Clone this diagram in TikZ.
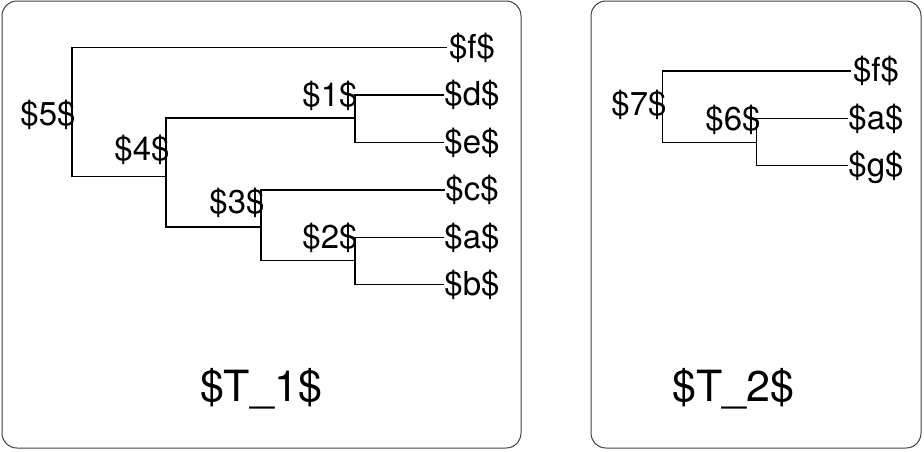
\documentclass[tikz,border=0pt]{standalone}
\usepackage{fontspec}
\setmainfont{TeX Gyre Heros}
\tikzset{
  lbl/.style={inner sep=0pt, font=\fontsize{33}{36}\selectfont, text height=25.4pt, text depth=3.6pt},
  leaf/.style={lbl, minimum width=50pt},
  ttl/.style={inner sep=0pt, font=\fontsize{43}{46}\selectfont, text height=33.1pt, text depth=4.7pt},
  frame/.style={draw=black!75, line width=1pt, rounded corners=15pt},
  edge/.style={line width=1.3pt}
}
\begin{document}
\begin{tikzpicture}[x=1pt,y=-1pt]
		\useasboundingbox (0,0) rectangle (924,451);
		\draw [frame] (2,1) rectangle (521,448);
		\draw [frame] (591,1) rectangle (921,448);
		
		% left tree
		\node [leaf] (lf) at (472,47.7) {\$f\$};
		\node [leaf] (ld) at (472,95) {\$d\$};
		\node [leaf] (le) at (472,142.7) {\$e\$};
		\node [leaf] (lc) at (472,190) {\$c\$};
		\node [leaf] (la) at (472,237.3) {\$a\$};
		\node [leaf] (lb) at (472,284.3) {\$b\$};
		\coordinate (j1) at (355,118);
		\coordinate (j2) at (355,260.7);
		\coordinate (j3) at (261,227);
		\coordinate (j4) at (166,176.7);
		\coordinate (j5) at (72,112);
		\draw [edge] (ld.west) -| (j1) |- (le.west);
		\draw [edge] (la.west) -| (j2) |- (lb.west);
		\draw [edge] (lc.west) -| (j3) |- (j2);
		\draw [edge] (j1) -| (j4) |- (j3);
		\draw [edge] (lf.west) -| (j5) |- (j4);
		\node [lbl] (n1) at (330,96) {\$1\$};
		\node [lbl] (n2) at (330,237.5) {\$2\$};
		\node [lbl] (n3) at (237,203) {\$3\$};
		\node [lbl] (n4) at (142,150) {\$4\$};
		\node [lbl] (n5) at (48,115) {\$5\$};
		\node [ttl] (t1) at (261,387) {\$T\_1\$};
		
		% right tree
		\node [leaf] (rf) at (876,71) {\$f\$};
		\node [leaf] (ra) at (876,118.3) {\$a\$};
		\node [leaf] (rg) at (876,165.7) {\$g\$};
		\coordinate (j6) at (756.7,142.3);
		\coordinate (j7) at (662.7,106);
		\draw [edge] (ra.west) -| (j6) |- (rg.west);
		\draw [edge] (rf.west) -| (j7) |- (j6);
		\node [lbl] (n7) at (639,105) {\$7\$};
		\node [lbl] (n6) at (733,120) {\$6\$};
		\node [ttl] (t2) at (733.5,387) {\$T\_2\$};
\end{tikzpicture}
\end{document}
